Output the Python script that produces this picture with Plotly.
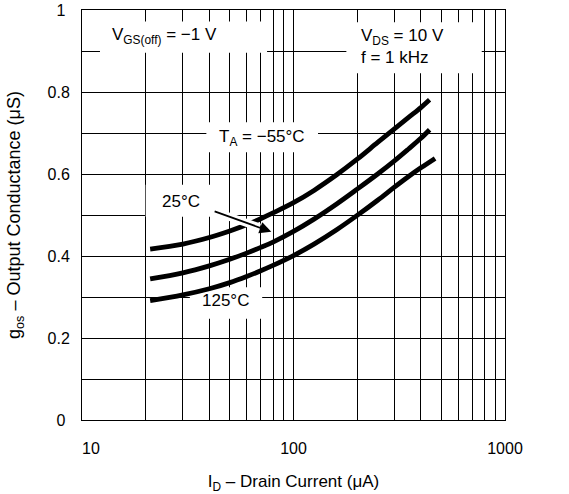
import numpy as np
import plotly.graph_objects as go

# ---- data ----
id_m55 = [21, 30, 40, 50, 60, 70, 80, 100, 125, 160, 200, 250, 300, 350, 400, 440]
g_m55 = [0.417, 0.429, 0.445, 0.461, 0.476, 0.491, 0.505, 0.530, 0.560, 0.598,
         0.636, 0.677, 0.710, 0.738, 0.762, 0.781]
id_25 = [21, 30, 40, 50, 60, 70, 80, 100, 125, 160, 200, 250, 300, 350, 400, 440]
g_25 = [0.344, 0.359, 0.376, 0.392, 0.407, 0.421, 0.434, 0.460, 0.490, 0.527,
        0.563, 0.600, 0.632, 0.661, 0.687, 0.708]
id_125 = [21, 30, 40, 50, 60, 70, 80, 100, 125, 160, 200, 250, 300, 350, 400, 467]
g_125 = [0.291, 0.305, 0.320, 0.335, 0.350, 0.364, 0.377, 0.401, 0.429, 0.464,
         0.499, 0.536, 0.568, 0.594, 0.615, 0.638]

x_tickvals = [10, 100, 1000]
x_ticktext = ["\u2007\u200710", "100", "1000"]
x_minor = [m * d for d in (10, 100) for m in range(2, 10)]
y_tickvals = [0, 0.2, 0.4, 0.6, 0.8, 1.0]
y_ticktext = ["0\u2008", "0.2", "0.4", "0.6", "0.8", "1\u2008"]

FONT = "Liberation Sans, Arial, sans-serif"
L = np.log10

fig = go.Figure()
for xs, ys in ((id_m55, g_m55), (id_25, g_25), (id_125, g_125)):
    fig.add_trace(go.Scatter(x=xs, y=ys, mode="lines",
                             line=dict(color="black", width=4.8, shape="spline", smoothing=1.0),
                             showlegend=False, hoverinfo="skip"))

# white label boxes (between grid and traces)
boxes = [
    (10 ** 1.085, 10 ** 1.875, 0.896, 0.972),   # VGS(off)
    (10 ** 2.25, 10 ** 2.89, 0.846, 0.970),     # VDS / f
    (10 ** 1.588, 10 ** 2.116, 0.653, 0.726),   # TA = -55
    (20.0, 10 ** 1.64, 0.496, 0.574),           # 25 C
    (10 ** 1.51, 10 ** 1.852, 0.247, 0.324),    # 125 C
]
shapes = []
for x0, x1, y0, y1 in boxes:
    shapes.append(dict(type="rect", xref="x", yref="y", x0=x0, x1=x1, y0=y0, y1=y1,
                       fillcolor="white", line=dict(width=0), layer="between"))
# white halo under the arrow shaft (breaks the -55 curve like the reference)
ax_start = (10 ** 1.62, 0.51)
ax_end = (10 ** 1.895, 0.459)
t = 0.8
mid = (10 ** (1.62 + t * (1.895 - 1.62)), 0.51 + t * (0.459 - 0.51))
shapes.append(dict(type="line", xref="x", yref="y", x0=ax_start[0], y0=ax_start[1], x1=mid[0], y1=mid[1],
                   line=dict(color="white", width=8), layer="above"))

annos = [
    dict(x=L(13.6), y=0.936, text="V<sub>GS(off)</sub> = \u22121 V", xanchor="left", yanchor="middle", showarrow=False),
    dict(x=L(203), y=0.910, text="V<sub>DS</sub> = 10 V<br>f = 1 kHz", xanchor="left", yanchor="middle", align="left", showarrow=False),
    dict(x=L(71), y=0.687, text="T<sub>A</sub> = \u221255\u00b0C", xanchor="center", yanchor="middle", showarrow=False),
    dict(x=L(29.3), y=0.533, text="25\u00b0C", xanchor="center", yanchor="middle", showarrow=False),
    dict(x=L(47.8), y=0.292, text="125\u00b0C", xanchor="center", yanchor="middle", showarrow=False),
    dict(x=L(ax_end[0]), y=ax_end[1], ax=L(ax_start[0]), ay=ax_start[1], axref="x", ayref="y",
         text="", showarrow=True, arrowhead=2, arrowsize=1.3, arrowwidth=1.8, arrowcolor="black", standoff=0),
]
for a in annos:
    a.setdefault("font", dict(family=FONT, size=17, color="black"))

fig.update_layout(
    width=569, height=494,
    margin=dict(l=82, r=64, t=10, b=74, autoexpand=False),
    paper_bgcolor="white", plot_bgcolor="white",
    font=dict(family=FONT, size=16, color="black"),
    shapes=shapes, annotations=annos,
    xaxis=dict(type="log", range=[1, 3], tickvals=x_tickvals, ticktext=x_ticktext,
               showgrid=True, gridcolor="black", gridwidth=1,
               minor=dict(tickvals=x_minor, showgrid=True, gridcolor="black", gridwidth=1, ticks=""),
               ticks="outside", ticklen=14, tickcolor="rgba(0,0,0,0)",
               showline=True, linecolor="black", linewidth=1, mirror=True, zeroline=False,
               automargin=False,
               title=dict(text="I<sub>D</sub> \u2013 Drain Current (\u03bcA)", standoff=22,
                          font=dict(family=FONT, size=17))),
    yaxis=dict(range=[0, 1], tickvals=y_tickvals, ticktext=y_ticktext,
               showgrid=True, gridcolor="black", gridwidth=1,
               minor=dict(dtick=0.1, showgrid=True, gridcolor="black", gridwidth=1, ticks=""),
               ticks="outside", ticklen=8, tickcolor="rgba(0,0,0,0)",
               showline=True, linecolor="black", linewidth=1, mirror=True, zeroline=False,
               automargin=False,
               title=dict(text="\u2007\u2007\u2008g<sub>os</sub> \u2013 Output Conductance (\u03bcS)", standoff=22,
                          font=dict(family=FONT, size=18))),
)

fig.write_html("out.html")
